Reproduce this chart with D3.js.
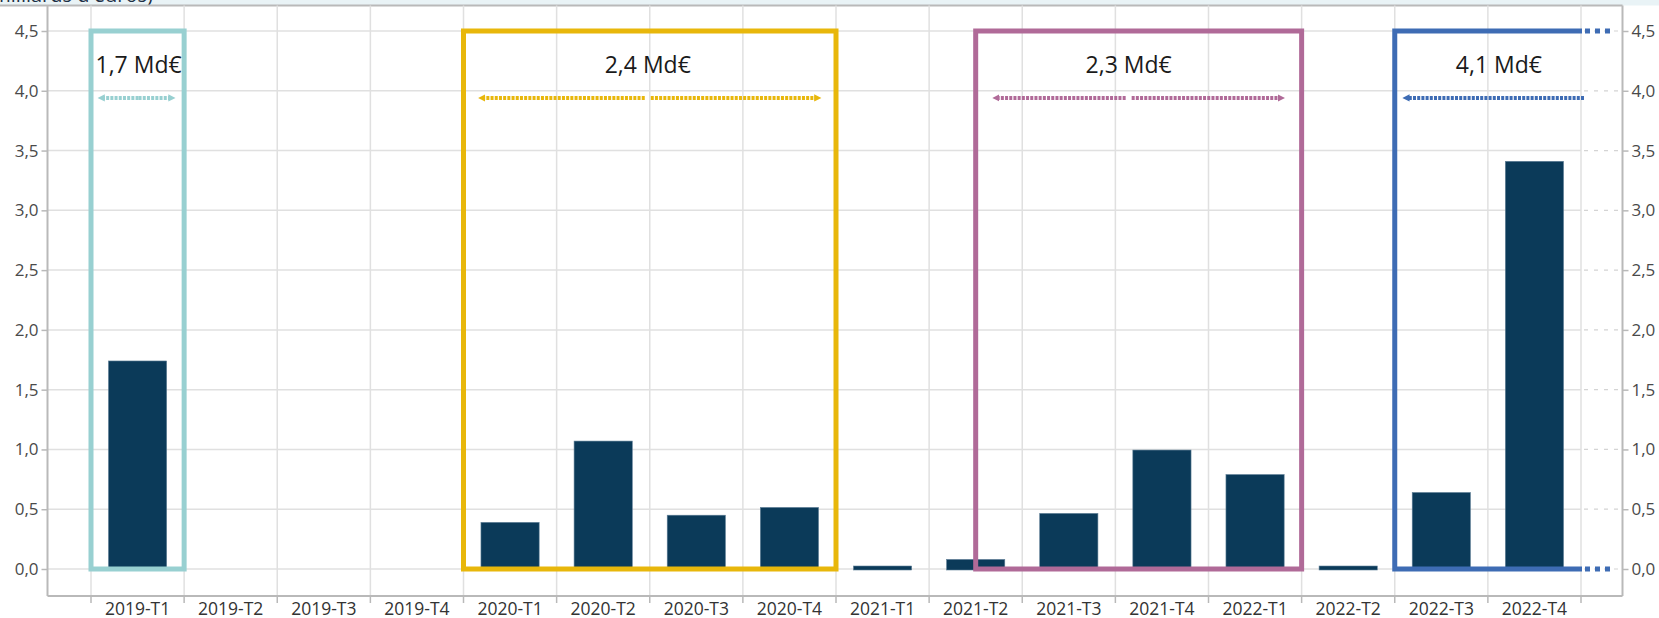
<!DOCTYPE html>
<html>
<head>
<meta charset="utf-8">
<script src="https://cdn.jsdelivr.net/npm/d3@7"></script>
<style>
    html, body { margin: 0; padding: 0; background: #fff; overflow: hidden; }
    svg { display: block; font-family: "Open Sans", sans-serif; }
</style>
</head>
<body>
<svg id="chart" width="1659" height="618"></svg>
<script>
// data
const categories = ["2019-T1", "2019-T2", "2019-T3", "2019-T4",
    "2020-T1", "2020-T2", "2020-T3", "2020-T4",
    "2021-T1", "2021-T2", "2021-T3", "2021-T4",
    "2022-T1", "2022-T2", "2022-T3", "2022-T4"];
const values = [1.74, 0, 0, 0,
    0.39, 1.07, 0.45, 0.515,
    0.025, 0.08, 0.465, 0.995,
    0.79, 0.025, 0.64, 3.41];
const yTicks = [0, 0.5, 1, 1.5, 2, 2.5, 3, 3.5, 4, 4.5];
const groupLabels = ["1,7 Md€", "2,4 Md€", "2,3 Md€", "4,1 Md€"];
const groupFirst = ["2019-T1", "2020-T1", "2021-T2", "2022-T3"];
const groupLast = ["2019-T1", "2020-T4", "2022-T1", "2022-T4"];
const subtitle = "(en milliards d'euros)";

// styles
const groupColors = ["#98d0d1", "#e8b70b", "#b06a98", "#3e6cb4"];
const barColor = "#0b3a59";
const gridColor = "#e0e0e0";
const axisColor = "#b9b9b9";

const W = 1659, H = 618;
const pLeft = 47.5, pRight = 1622.5, pTop = 5.5, pBottom = 596;

const svg = d3.select("#chart");

const fr = d3.formatLocale({decimal: ",", thousands: " ", grouping: [3], currency: ["", "€"]});
const fmt = fr.format(".1f");

const x = d3.scaleBand().domain(categories).range([91, 1581]);
const y = d3.scaleLinear().domain([0, 4.5]).range([569, 31]);
const bounds = categories.map(c => x(c)).concat([x.range()[1]]);
const xEnd = x.range()[1];

// header strip (cut off subtitle)
svg.append("rect").attr("x", 0).attr("y", 0).attr("width", W).attr("height", pTop)
    .attr("fill", "#e9f3f6");
svg.append("text").text(subtitle)
    .attr("x", 153).attr("y", 2)
    .attr("text-anchor", "end")
    .attr("font-size", 20)
    .attr("fill", "#1d2f45");
svg.append("line").attr("x1", 0).attr("x2", pRight).attr("y1", pTop).attr("y2", pTop)
    .attr("stroke", axisColor).attr("stroke-width", 2);

// grid
const grid = svg.append("g");
grid.selectAll("line.h").data(yTicks).enter().append("line")
    .attr("x1", pLeft).attr("x2", xEnd)
    .attr("y1", d => y(d)).attr("y2", d => y(d))
    .attr("stroke", gridColor).attr("stroke-width", 1.5);
grid.selectAll("line.hd").data(yTicks).enter().append("line")
    .attr("x1", xEnd + 3).attr("x2", pRight)
    .attr("y1", d => y(d)).attr("y2", d => y(d))
    .attr("stroke", "#d4d4d4").attr("stroke-width", 1.2)
    .attr("stroke-dasharray", "4,6");
grid.selectAll("line.v").data(bounds).enter().append("line")
    .attr("x1", d => d).attr("x2", d => d)
    .attr("y1", pTop).attr("y2", pBottom)
    .attr("stroke", gridColor).attr("stroke-width", 1.5);

// axes
const yl = svg.append("g").attr("transform", `translate(${pLeft},0)`)
    .call(d3.axisLeft(y).tickValues(yTicks).tickFormat(fmt).tickSize(6).tickPadding(3));
const yr = svg.append("g").attr("transform", `translate(${pRight},0)`)
    .call(d3.axisRight(y).tickValues(yTicks).tickFormat(fmt).tickSize(6).tickPadding(3));
[yl, yr].forEach(g => {
    g.select(".domain").remove();
    g.selectAll(".tick line").attr("stroke", axisColor).attr("stroke-width", 1.5);
    g.selectAll(".tick text").attr("font-size", 17).attr("fill", "#4a4a4a")
        .attr("font-family", "Open Sans");
});
svg.append("line").attr("x1", pLeft).attr("x2", pLeft).attr("y1", pTop).attr("y2", pBottom)
    .attr("stroke", axisColor).attr("stroke-width", 2);
svg.append("line").attr("x1", pRight).attr("x2", pRight).attr("y1", pTop).attr("y2", pBottom)
    .attr("stroke", axisColor).attr("stroke-width", 2);

const xa = svg.append("g").attr("transform", `translate(0,${pBottom})`)
    .call(d3.axisBottom(x).tickSize(0).tickPadding(7));
xa.select(".domain").remove();
xa.selectAll(".tick text").attr("font-size", 17.5).attr("fill", "#333")
    .attr("font-family", "Open Sans");
svg.append("line").attr("x1", pLeft).attr("x2", pRight).attr("y1", pBottom).attr("y2", pBottom)
    .attr("stroke", axisColor).attr("stroke-width", 2);
svg.append("g").selectAll("line").data(bounds).enter().append("line")
    .attr("x1", d => d).attr("x2", d => d)
    .attr("y1", pBottom).attr("y2", pBottom + 7)
    .attr("stroke", axisColor).attr("stroke-width", 1.5);

// bars
const bw = x.bandwidth() * 0.625;
svg.append("g").selectAll("rect")
    .data(categories.map((c, i) => ({c: c, v: values[i]})).filter(d => d.v > 0))
    .enter().append("rect")
    .attr("x", d => x(d.c) + (x.bandwidth() - bw) / 2)
    .attr("width", bw)
    .attr("y", d => y(d.v))
    .attr("height", d => y(0) - y(d.v) + 1)
    .attr("fill", barColor)
    .attr("stroke", "#5f7f97").attr("stroke-width", 0.6);

// arrow markers
const defs = svg.append("defs");
groupColors.forEach((col, i) => {
    defs.append("marker")
        .attr("id", "head" + i)
        .attr("markerUnits", "userSpaceOnUse")
        .attr("viewBox", "0 -5 10 10")
        .attr("refX", 2).attr("refY", 0)
        .attr("markerWidth", 9).attr("markerHeight", 9)
        .attr("orient", "auto")
        .append("path").attr("d", "M0,-4L8,0L0,4Z").attr("fill", col);
});

// groups: boxes, arrows, labels
const yTop = y(4.5), yBot = y(0), yArrow = y(3.94);
const sw = 5;
groupLabels.forEach((lab, i) => {
    const col = groupColors[i];
    const g = svg.append("g");
    let x0 = x(groupFirst[i]);
    if (i === 2) x0 += x.bandwidth() / 2;   // starts in the middle of 2021-T2
    const x1 = x(groupLast[i]) + x.bandwidth();
    const open = i === 3;                     // last box continues to the right

    if (!open) {
        g.append("rect").attr("x", x0).attr("y", yTop)
            .attr("width", x1 - x0).attr("height", yBot - yTop)
            .attr("fill", "none").attr("stroke", col).attr("stroke-width", sw);
    } else {
        g.append("path")
            .attr("d", `M${x1 + 1},${yTop}H${x0}V${yBot}H${x1 + 1}`)
            .attr("fill", "none").attr("stroke", col).attr("stroke-width", sw);
        [yTop, yBot].forEach(yy => {
            g.append("line").attr("x1", x1 + 4).attr("x2", x1 + 34)
                .attr("y1", yy).attr("y2", yy)
                .attr("stroke", col).attr("stroke-width", sw)
                .attr("stroke-dasharray", "5,5");
        });
    }

    const shift = [1, -2, -10, 11][i];
    const cx = (x0 + x1) / 2 + shift;
    g.append("text").text(lab)
        .attr("x", cx).attr("y", 73)
        .attr("text-anchor", "middle")
        .attr("font-size", 23)
        .attr("fill", "#1a1a1a");

    const arrow = (xa0, xa1) => {
        g.append("line")
            .attr("x1", xa0).attr("x2", xa1).attr("y1", yArrow).attr("y2", yArrow)
            .attr("stroke", col).attr("stroke-width", 4)
            .attr("stroke-dasharray", "3,1.2")
            .attr("marker-end", `url(#head${i})`);
    };
    const inset = [12, 20, 22, 13][i];
    if (i === 0) {
        arrow(cx, x0 + inset);
        arrow(cx, x1 - inset - 2);
    } else if (open) {
        arrow(x1 + 3, x0 + inset);
    } else {
        arrow(cx - 3, x0 + inset);
        arrow(cx + 3, x1 - inset);
    }
});
</script>
</body>
</html>
